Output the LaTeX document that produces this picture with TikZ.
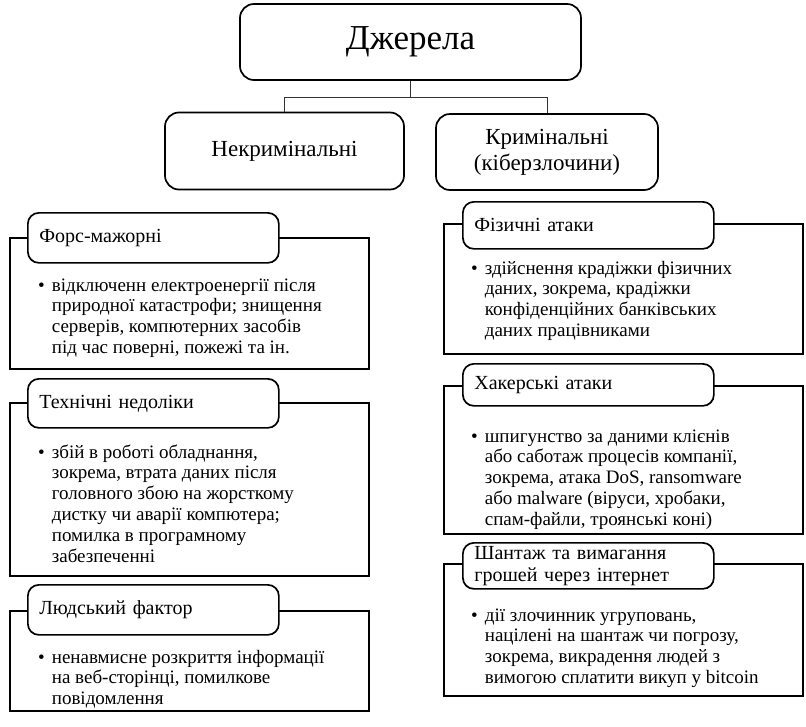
\documentclass[tikz,border=0pt]{standalone}
\usepackage{fontspec}
\setmainfont{Liberation Serif}
\tikzset{
  x=1pt,y=-1pt,
  topbox/.style={draw, line width=1.7pt, rounded corners=14pt, align=center, inner sep=0pt},
  titlebox/.style={draw, fill=white, line width=1.7pt, rounded corners=11pt, anchor=north west,
     minimum width=251pt, text width=228pt, align=left, inner xsep=11.5pt, inner ysep=0pt,
     font=\fontsize{20}{22}\selectfont},
  outerbox/.style={draw, line width=1.7pt, anchor=north west, inner sep=0pt},
  bodytext/.style={anchor=base west, inner sep=0pt, font=\fontsize{19}{20.8}\selectfont},
  conn/.style={draw, line width=0.8pt, black!80}
}
\newcommand{\blist}[1]{\begin{tabular}[t]{@{}l@{\hspace{7pt}}l@{}}\textbullet & #1\end{tabular}}
\begin{document}
\begin{tikzpicture}
\useasboundingbox (0,0) rectangle (806,726);
% top level
\node[topbox, minimum width=341pt, minimum height=76pt, font=\fontsize{35}{38}\selectfont] (root) at (410.5,42) {Джерела};
\node[topbox, minimum width=239pt, minimum height=77pt, font=\fontsize{23}{26}\selectfont] (nk) at (284.5,151) {Некримінальні};
\node[topbox, minimum width=222pt, minimum height=76pt, font=\fontsize{23}{26}\selectfont] (kr) at (547,152) {Кримінальні\\(кіберзлочини)};
\coordinate (mid) at (410.5,97);
\draw[conn] (root.south) -- (mid);
\draw[conn] (mid) -| (nk.north);
\draw[conn] (mid) -| (kr.north);
% left column
\node[outerbox, minimum width=359pt, minimum height=131pt] (fmo) at (9,237) {};
\node[titlebox, minimum height=50pt] (fm) at (27,212) {Форс-мажорні};
\node[bodytext] (fmt) at (38,291) {\blist{відключенн електроенергії після\\ & природної катастрофи; знищення\\ & серверів, компютерних засобів\\ & під час поверні, пожежі та ін.}};

\node[outerbox, minimum width=359pt, minimum height=173pt] (tno) at (9,402) {};
\node[titlebox, minimum height=49pt] (tn) at (27,378) {Технічні недоліки};
\node[bodytext] (tnt) at (38,458) {\blist{збій в роботі обладнання,\\ & зокрема, втрата даних після\\ & головного збою на жорсткому\\ & дистку чи аварії компютера;\\ & помилка в програмному\\ & забезпеченні}};

\node[outerbox, minimum width=359pt, minimum height=100pt] (ldo) at (9,610) {};
\node[titlebox, minimum height=50pt] (ld) at (27,584) {Людський фактор};
\node[bodytext] (ldt) at (38,663) {\blist{ненавмисне розкриття інформації\\ & на веб-сторінці, помилкове\\ & повідомлення}};
% right column
\node[outerbox, minimum width=359pt, minimum height=130pt] (fao) at (443,223) {};
\node[titlebox, minimum height=47pt] (fa) at (462,201) {Фізичні атаки};
\node[bodytext] (fat) at (471,274) {\blist{здійснення крадіжки фізичних\\ & даних, зокрема, крадіжки\\ & конфіденційних банківських\\ & даних працівниками}};

\node[outerbox, minimum width=359pt, minimum height=148pt] (hao) at (443,385) {};
\node[titlebox, minimum height=42pt] (ha) at (462,363) {Хакерські атаки};
\node[bodytext] (hat) at (471,442) {\blist{шпигунство за даними клієнів\\ & або саботаж процесів компанії,\\ & зокрема, атака DoS, ransomware\\ & або malware (віруси, хробаки,\\ & спам-файли, троянські коні)}};

\node[outerbox, minimum width=359pt, minimum height=132pt] (sho) at (443,563) {};
\node[titlebox, minimum height=46pt] (sh) at (462,542) {Шантаж та вимагання\\грошей через інтернет};
\node[bodytext] (sht) at (471,621) {\blist{дії злочинник угруповань,\\ & націлені на шантаж чи погрозу,\\ & зокрема, викрадення людей з\\ & вимогою сплатити викуп у bitcoin}};
\end{tikzpicture}
\end{document}
